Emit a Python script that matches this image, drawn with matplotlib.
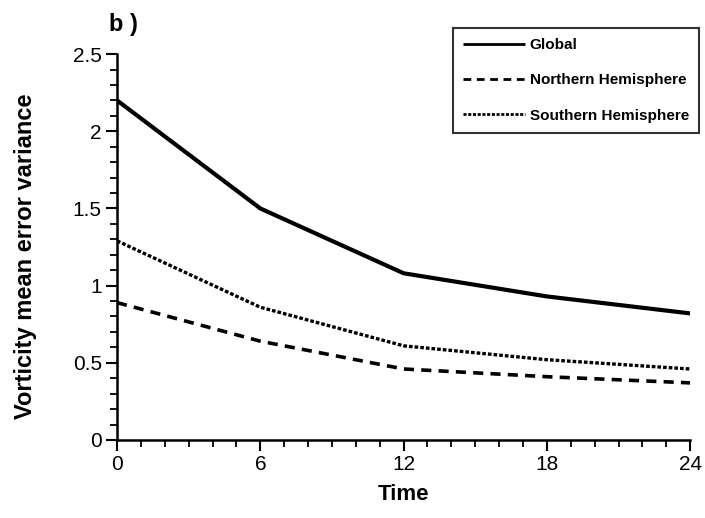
import matplotlib
matplotlib.use('Agg')
import matplotlib.pyplot as plt
from matplotlib.ticker import MultipleLocator

plt.rcParams['font.family'] = ['Liberation Sans', 'DejaVu Sans']

time = [0, 6, 12, 18, 24]
global_var = [2.2, 1.50, 1.08, 0.93, 0.82]
north_var = [0.89, 0.64, 0.46, 0.41, 0.37]
south_var = [1.29, 0.86, 0.61, 0.52, 0.46]

fig = plt.figure(figsize=(7.05, 5.18), dpi=100)
ax = fig.add_axes([0.166, 0.1506, 0.813, 0.745])

ax.plot(time, global_var, color='black', lw=3.0, solid_capstyle='butt', label='Global')
ax.plot(time, north_var, color='black', lw=2.6, dashes=(2.8, 2.0), label='Northern Hemisphere')
ax.plot(time, south_var, color='black', lw=2.4, dashes=(1.1, 0.6), label='Southern Hemisphere')

ax.set_xlim(0, 24)
ax.set_ylim(0, 2.5)
ax.xaxis.set_major_locator(MultipleLocator(6))
ax.xaxis.set_minor_locator(MultipleLocator(1))
ax.yaxis.set_minor_locator(MultipleLocator(0.1))
ax.set_yticks([0, 0.5, 1, 1.5, 2, 2.5])
ax.set_yticklabels(['0', '0.5', '1', '1.5', '2', '2.5'])

for s in ['top', 'right']:
    ax.spines[s].set_visible(False)
for s in ['left', 'bottom']:
    ax.spines[s].set_linewidth(1.8)

ax.tick_params(which='major', direction='out', length=8, width=1.5, labelsize=15, pad=3)
ax.tick_params(which='minor', direction='out', length=5, width=1.3)

ax.set_xlabel('Time', fontsize=16, fontweight='bold')
ax.xaxis.set_label_coords(0.5, -0.115)
ax.set_ylabel('Vorticity mean error variance', fontsize=17, fontweight='bold')
ax.yaxis.set_label_coords(-0.14, 0.477)

fig.text(0.155, 0.952, 'b )', fontsize=17, fontweight='bold', ha='left', va='center')

leg = ax.legend(loc='upper right', bbox_to_anchor=(699 / 705, 1 - 28 / 518),
                bbox_transform=fig.transFigure, borderaxespad=0,
                prop={'weight': 'bold', 'size': 11}, handlelength=4.1, handletextpad=0.3,
                labelspacing=1.4, borderpad=0.65, fancybox=False, frameon=True)
leg.get_frame().set_edgecolor('black')
leg.get_frame().set_linewidth(1.5)
for line in leg.get_lines():
    line.set_linewidth(2.0)

fig.savefig('out.png', dpi=100)
